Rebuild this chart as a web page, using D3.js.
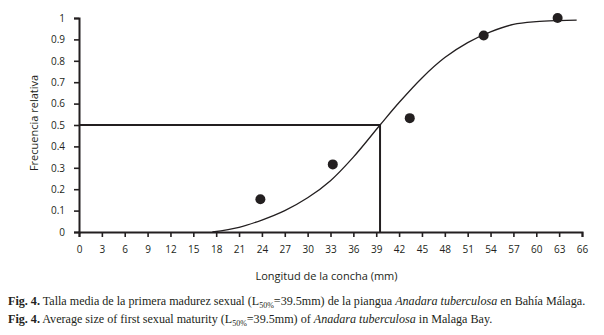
<!DOCTYPE html>
<html>
<head>
<meta charset="utf-8">
<script src="https://cdn.jsdelivr.net/npm/d3@7"></script>
<style>
  body { margin: 0; background: #fff; }
  svg text { fill: #231f20; }
</style>
</head>
<body>
<div id="chart"></div>
<script>
// observed points (length mm, relative frequency)
const obsLength = [23.8, 33.3, 43.4, 53.1, 62.8];
const obsFreq = [0.153, 0.316, 0.532, 0.918, 1.0];

// fitted curve
const curveLength = [17.5, 21, 24, 27, 30, 33, 36, 39.5, 42, 45, 48, 51, 54, 57, 60, 63, 65.3];
const curveFreq = [0, 0.022, 0.056, 0.1, 0.16, 0.24, 0.35, 0.5, 0.605, 0.72, 0.815, 0.885, 0.935, 0.97, 0.983, 0.988, 0.99];

const L50 = 39.5;
const xTicks = d3.range(0, 67, 3);
const yTicks = [0, 0.1, 0.2, 0.3, 0.4, 0.5, 0.6, 0.7, 0.8, 0.9, 1];

const W = 604, H = 335;
const margin = { top: 18, right: 22, bottom: 103, left: 79 };
const width = W - margin.left - margin.right;
const height = H - margin.top - margin.bottom;
const ink = '#231f20';

const svg = d3.select('#chart').append('svg')
  .attr('width', W)
  .attr('height', H);

const g = svg.append('g')
  .attr('transform', `translate(${margin.left},${margin.top})`);

const x = d3.scaleLinear().domain([0, 66]).range([0, width]);
const y = d3.scaleLinear().domain([0, 1]).range([height, 0]);

// axes
const xAxis = g.append('g')
  .attr('transform', `translate(0,${height})`)
  .call(d3.axisBottom(x).tickValues(xTicks).tickSize(5).tickPadding(9).tickFormat(d3.format('d')));

const yAxis = g.append('g')
  .call(d3.axisLeft(y).tickValues(yTicks).tickSize(5).tickPadding(9).tickFormat(d => d === 0 || d === 1 ? d : d3.format('.1f')(d)));

[xAxis, yAxis].forEach(a => {
  a.select('.domain').attr('stroke', ink).attr('stroke-width', 2);
  a.selectAll('.tick line').attr('stroke', ink).attr('stroke-width', 1.6);
  a.selectAll('.tick text')
    .style('font-family', '"Open Sans", sans-serif')
    .style('font-size', '10px')
    .attr('fill', ink);
});

// L50 reference lines
g.append('path')
  .attr('d', `M${x(0)},${y(0.5)}H${x(L50)}V${y(0)}`)
  .attr('fill', 'none')
  .attr('stroke', ink)
  .attr('stroke-width', 2);

// fitted curve
const line = d3.line()
  .x((d, i) => x(curveLength[i]))
  .y(d => y(d))
  .curve(d3.curveCatmullRom);

g.append('path')
  .datum(curveFreq)
  .attr('fill', 'none')
  .attr('stroke', ink)
  .attr('stroke-width', 1.3)
  .attr('d', line);

// observed points
g.selectAll('.dot')
  .data(obsFreq)
  .enter()
  .append('circle')
  .attr('class', 'dot')
  .attr('cx', (d, i) => x(obsLength[i]))
  .attr('cy', d => y(d))
  .attr('r', 5)
  .attr('fill', ink);

// axis titles
g.append('text')
  .attr('x', width / 2 - 4)
  .attr('y', height + 48)
  .attr('text-anchor', 'middle')
  .style('font-family', '"Open Sans", sans-serif')
  .style('font-size', '11px')
  .text('Longitud de la concha (mm)');

g.append('text')
  .attr('transform', 'rotate(-90)')
  .attr('x', -height / 2 + 2)
  .attr('y', -41)
  .attr('text-anchor', 'middle')
  .style('font-family', '"Open Sans", sans-serif')
  .style('font-size', '11px')
  .text('Frecuencia relativa');

// caption
const captions = [
  { y: 305, pre: 'Talla media de la primera madurez sexual (L', post: '=39.5mm) de la piangua ', sp: 'Anadara tuberculosa', end: ' en Bahía Málaga.' },
  { y: 323, pre: 'Average size of first sexual maturity (L', post: '=39.5mm) of ', sp: 'Anadara tuberculosa', end: ' in Malaga Bay.' }
];

captions.forEach(c => {
  const t = svg.append('text')
    .attr('x', 8)
    .attr('y', c.y)
    .style('font-family', '"Liberation Serif", "Times New Roman", serif')
    .style('font-size', '12.1px');
  t.append('tspan').style('font-weight', 'bold').text('Fig. 4.');
  t.append('tspan').text(' ' + c.pre);
  t.append('tspan').attr('dy', 3).style('font-size', '8px').text('50%');
  t.append('tspan').attr('dy', -3).text(c.post);
  t.append('tspan').style('font-style', 'italic').text(c.sp);
  t.append('tspan').text(c.end);
});
</script>
</body>
</html>
